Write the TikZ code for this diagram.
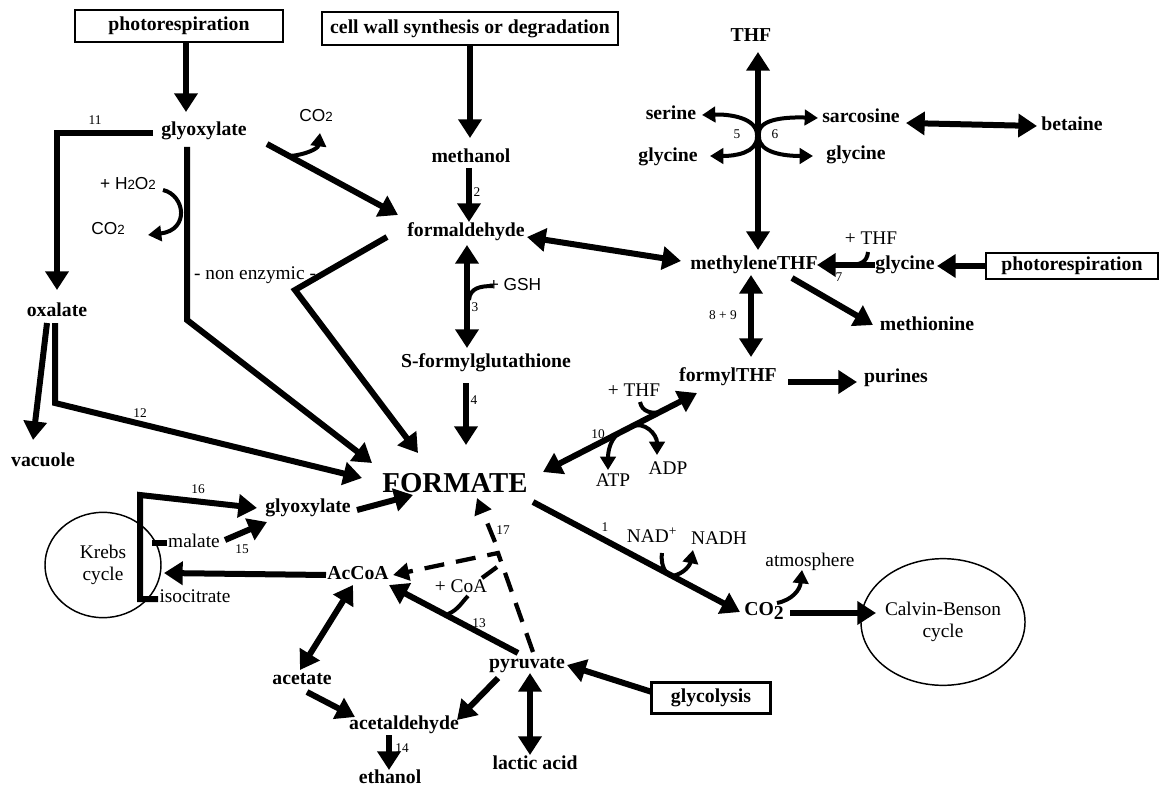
\documentclass[tikz,border=0pt]{standalone}
\usepackage{fontspec}
\setmainfont{Liberation Serif}
\setsansfont{Liberation Sans}
\usetikzlibrary{arrows.meta,calc,shapes.geometric}
\newcommand\smtwo{{\fontsize{10}{10}\selectfont 2}}
\begin{document}
\begin{tikzpicture}[x=0.75pt,y=-0.75pt,
  lblb/.style={font=\bfseries\fontsize{14.8}{16}\selectfont, inner sep=0pt, text height=10pt, text depth=3pt},
  lblr/.style={font=\fontsize{14.5}{16}\selectfont, inner sep=0pt, text height=10pt, text depth=3pt},
  lbls/.style={font=\sffamily\fontsize{13}{15}\selectfont, inner sep=0pt, text height=9pt, text depth=2pt},
  lbln/.style={font=\fontsize{10}{12}\selectfont, inner sep=0pt},
  boxn/.style={lblb, draw, line width=2pt, text height=, text depth=},
  arr/.style={line width=4.5pt, -{Triangle[length=14pt,width=17pt]}},
  darr/.style={line width=4.5pt, {Triangle[length=14pt,width=17pt]}-{Triangle[length=14pt,width=17pt]}},
  hookl/.style={line width=3pt},
  harr/.style={line width=3pt, -{Triangle[length=10pt,width=11.5pt]}},
  dsh/.style={line width=3.2pt, dash pattern=on 15pt off 9pt, -{Triangle[length=12pt,width=13pt]}},
  cyc/.style={draw, ellipse, line width=1.1pt, inner sep=0pt, align=center, font=\fontsize{14.5}{17}\selectfont},
]
\useasboundingbox (0,0) rectangle (1161,788);

% boxes
\node[boxn, minimum width=156pt, minimum height=24pt] (ph1) at (179,26) {photorespiration};
\node[boxn, minimum width=222pt, minimum height=24.75pt] (cw) at (470,28.5) {cell wall synthesis or degradation};
\node[boxn, minimum width=129pt, minimum height=19.5pt] (ph2) at (1072,266) {photorespiration};
\node[boxn, minimum width=89pt, minimum height=23pt] (gl) at (711,698) {glycolysis};

% metabolites
\node[lblb] (gly1) at (204,131) {glyoxylate};
\node[lbls] (co2a) at (316,117) {CO\smtwo};
\node[lbls] (h2o2) at (128,185) {+ H\smtwo O\smtwo};
\node[lbls] (co2b) at (108,230) {CO\smtwo};
\node[lblb] (meth) at (471,158) {methanol};
\node[lblb] (form) at (466,232) {formaldehyde};
\node[lblb] (thf) at (751,37) {THF};
\node[lblb] (ser) at (671,115) {serine};
\node[lblb] (glyL) at (668,157) {glycine};
\node[lblb] (sar) at (861,118) {sarcosine};
\node[lblb] (glyR) at (856,155) {glycine};
\node[lblb] (bet) at (1072,126) {betaine};
\node[lblb] (mthf) at (754,265) {methyleneTHF};
\node[lblr] (pthf1) at (871,240) {+ THF};
\node[lblb] (gly3) at (905,265) {glycine};
\node[lblb] (metn) at (927,326) {methionine};
\node[lblb] (fthf) at (728,377) {formylTHF};
\node[lblb] (pur) at (896,378) {purines};
\node[lblr] (pthf2) at (634,392) {+ THF};
\node[lblr] (atp) at (613,482) {ATP};
\node[lblr] (adp) at (668,470) {ADP};
\node[font=\bfseries\fontsize{21.6}{24}\selectfont, inner sep=0pt, text height=14.5pt, text depth=0pt] (fmt) at (455,483) {FORMATE};
\node[lblb] (sfg) at (486,363) {S-formylglutathione};
\node[lbls] (gsh) at (515,286) {+ GSH};
\node[lblb] (oxa) at (57,312) {oxalate};
\node[lblb] (vac) at (43,462) {vacuole};
\node[lblr] (nonenz) at (255,275) {- non enzymic -};
\node[cyc, minimum width=87pt, minimum height=79pt] (krebs) at (103,565) {Krebs\\cycle};
\node[lblb] (gly2) at (308,508) {glyoxylate};
\node[lblr] (mal) at (194,543) {malate};
\node[lblr] (iso) at (195,598) {isocitrate};
\node[lblb] (acoa) at (358,575) {AcCoA};
\node[lblb] (acet) at (302,680) {acetate};
\node[lblb] (acald) at (404,725) {acetaldehyde};
\node[lblb] (eth) at (390,779) {ethanol};
\node[lblb] (pyr) at (527,664) {pyruvate};
\node[lblb] (lac) at (535,765) {lactic acid};
\node[lblr] (pcoa) at (461,588) {+ CoA};
\node[lblr] (nad) at (652,538) {NAD\textsuperscript{+}};
\node[lblr] (nadh) at (719,540) {NADH};
\node[lblr] (atm) at (810,562) {atmosphere};
\node[lblb] (co2c) at (764,611) {CO\raisebox{-3pt}{2}};
\node[cyc, minimum width=102pt, minimum height=95pt] (calvin) at (943,622) {Calvin-Benson\\cycle};

% enzyme numbers
\node[lbln] (n11) at (95,120) {11};
\node[lbln] (n2) at (477,192) {2};
\node[lbln] (n3) at (475,307) {3};
\node[lbln] (n4) at (474,400) {4};
\node[lbln] (n5) at (737,134) {5};
\node[lbln] (n6) at (775,134) {6};
\node[lbln] (n7) at (839,277) {7};
\node[lbln] (n89) at (723,315) {8 + 9};
\node[lbln] (n10) at (598,434) {10};
\node[lbln] (n12) at (140,413) {12};
\node[lbln] (n13) at (479,623) {13};
\node[lbln] (n14) at (402,748) {14};
\node[lbln] (n15) at (242,549) {15};
\node[lbln] (n16) at (198,489) {16};
\node[lbln] (n17) at (503,530) {17};
\node[lbln] (n1) at (605,527) {1};

% connectors - top left
\draw[arr] ($(ph1)+(7,17)$) -- ($(gly1)+(-18,-19)$);
\draw[arr] ($(cw)+(0,16.5)$) -- ($(meth)+(-1,-20)$);
\draw[arr] ($(meth)+(-2,10)$) -- ($(form)+(3,-10)$);
\draw[arr] ($(gly1)+(63,13)$) -- ($(form)+(-68,-17)$);
\draw[harr] ($(co2a)+(-26,39)$) .. controls ($(co2a)+(-12,38)$) and ($(co2a)+(2,32)$) .. ($(co2a)+(4,16)$);
\draw[arr] ($(gly1)+(-51,2)$) -- ($(gly1)+(-147,2)$) -- ($(oxa)+(0,-22)$);
\draw[arr] ($(gly1)+(-17,16)$) -- ($(gly1)+(-17,189)$) -- ($(fmt)+(-83,-20)$);
\draw[harr] ($(h2o2)+(35,5)$) .. controls ($(h2o2)+(57,10)$) and ($(h2o2)+(62,45)$) .. ($(co2b)+(40,5)$);
\draw[arr] ($(form)+(-79,5)$) -- ($(nonenz)+(40,15)$) -- ($(fmt)+(-37,-30)$);
\draw[arr] ($(oxa)+(-10,11)$) -- ($(vac)+(-10,-22)$);
\draw[arr] ($(oxa)+(-2,11)$) -- ($(oxa)+(-2,91)$) -- ($(fmt)+(-93,-5)$);

% formaldehyde column
\draw[darr] ($(form)+(61,5)$) -- ($(mthf)+(-73,-4)$);
\draw[darr] ($(form)+(1,13)$) -- ($(sfg)+(-19,-15)$);
\draw[hookl] ($(gsh)+(-46,14)$) .. controls ($(gsh)+(-45,2)$) and ($(gsh)+(-35,0)$) .. ($(gsh)+(-22,0)$);
\draw[arr] ($(sfg)+(-20,20)$) -- ($(fmt)+(11,-38)$);

% THF cross
\draw[darr] ($(thf)+(7,15)$) -- ($(mthf)+(4,-15)$);
\coordinate (x56) at ($(thf)+(6,98)$);
\draw[harr] (x56) .. controls +(0,-17) and +(28,-1) .. ($(ser)+(31,0)$);
\draw[harr] ($(x56)+(0,2)$) .. controls +(0,16) and +(25,0) .. ($(glyL)+(42,-1)$);
\draw[harr] ($(x56)+(2,-2)$) .. controls +(0,-15) and +(-28,-1) .. ($(sar)+(-43,0)$);
\draw[harr] ($(x56)+(2,2)$) .. controls +(0,16) and +(-28,0) .. ($(glyR)+(-43,1)$);
\draw[darr] ($(sar)+(45,5)$) -- ($(bet)+(-35,0)$);

% methyleneTHF area
\draw[arr] (ph2.west) -- ($(gly3)+(32,1)$);
\draw[arr] ($(gly3)+(-30,0)$) -- ($(mthf)+(63,0)$);
\draw[hookl] ($(pthf1)+(-3,12)$) .. controls ($(pthf1)+(-4,22)$) and ($(pthf1)+(-10,25)$) .. ($(pthf1)+(-23,25)$);
\draw[arr] ($(mthf)+(38,13)$) -- ($(metn)+(-54,-1)$);
\draw[darr] ($(mthf)+(-3,10)$) -- ($(fthf)+(23,-20)$);
\draw[arr] ($(fthf)+(60,5)$) -- ($(pur)+(-39,4)$);
\draw[darr] ($(fthf)+(-31,16)$) -- ($(fmt)+(88,-11)$);
\draw[hookl] ($(pthf2)+(6,10)$) .. controls ($(pthf2)+(8,20)$) and ($(pthf2)+(18,22)$) .. ($(pthf2)+(26,20)$);
\draw[harr] ($(atp)+(5,-48)$) .. controls ($(atp)+(-3,-42)$) and ($(atp)+(-5,-30)$) .. ($(atp)+(-5,-12)$);
\draw[harr] ($(adp)+(-38,-43)$) .. controls ($(adp)+(-23,-50)$) and ($(adp)+(-11,-35)$) .. ($(adp)+(-11,-15)$);

% bottom left
\draw[arr] ($(gly2)+(49,2)$) -- ($(fmt)+(-42,12)$);
\draw[arr] ($(mal)+(31,-3)$) -- ($(gly2)+(-41,14)$);
\draw[arr] ($(iso)+(-37,1)$) -- ($(iso)+(-55,1)$) -- ($(iso)+(-55,-103)$) -- ($(gly2)+(-51,0)$);
\draw[line width=4.5pt] ($(mal)+(-42,0)$) -- ($(mal)+(-27,0)$);
\draw[arr] ($(acoa)+(-32,0)$) -- ($(krebs)+(61,8)$);
\draw[darr] ($(acoa)+(-5,10)$) -- ($(acet)+(-2,-10)$);
\draw[arr] ($(acet)+(5,12)$) -- ($(acald)+(-49,-8)$);
\draw[arr] ($(acald)+(-15,10)$) -- ($(eth)+(-1,-9)$);
\draw[arr] ($(pyr)+(-29,14)$) -- ($(acald)+(53,-5)$);
\draw[darr] ($(pyr)+(3,9)$) -- ($(lac)+(-5,-10)$);
\draw[arr] ($(pyr)+(-9,-11)$) -- ($(acoa)+(31,10)$);
\draw[hookl] ($(pcoa)+(-13,26)$) .. controls ($(pcoa)+(-3,22)$) and ($(pcoa)+(1,14)$) .. ($(pcoa)+(7,8)$);
\coordinate (vx) at ($(pyr)+(-29,-111)$);
\draw[dsh] ($(pyr)+(6,-12)$) -- (vx) -- ($(acoa)+(35,0)$);
\draw[dsh] ($(vx)+(-3,-11)$) -- ($(fmt)+(22,15)$);
\draw[line width=3.2pt] ($(pcoa)+(21,-10)$) -- ($(vx)+(-1,14)$);

% bottom right
\draw[arr] ($(fmt)+(78,19)$) -- ($(co2c)+(-24,1)$);
\draw[harr] ($(nad)+(10,15)$) .. controls ($(nad)+(8,30)$) and ($(nad)+(16,38)$) .. ($(nad)+(20,38)$) .. controls ($(nadh)+(-35,34)$) and ($(nadh)+(-29,25)$) .. ($(nadh)+(-26,10)$);
\draw[harr] ($(co2c)+(13,-8)$) .. controls ($(co2c)+(28,-11)$) and ($(co2c)+(36,-21)$) .. ($(atm)+(-8,8)$);
\draw[arr] ($(co2c)+(26,2)$) -- ($(calvin)+(-67,-9)$);
\draw[arr] ($(gl)+(-59,-6)$) -- ($(pyr)+(40,1)$);
\end{tikzpicture}
\end{document}
